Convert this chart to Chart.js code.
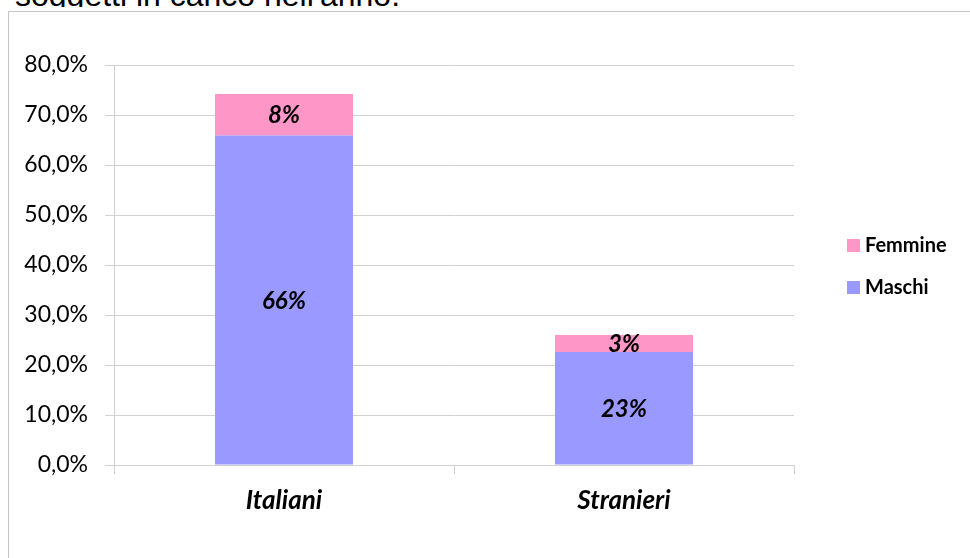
<!DOCTYPE html>
<html>
<head>
<meta charset="utf-8">
<script src="https://cdn.jsdelivr.net/npm/chart.js@4"></script>
<style>
  html, body { margin: 0; padding: 0; background: #fff; width: 970px; height: 558px; overflow: hidden; }
  #caption {
    position: absolute; left: 15px; top: 0; height: 7px; overflow: hidden;
  }
  #caption span {
    display: block; margin-top: -21px;
    font-family: "Liberation Sans", Arial, sans-serif; font-size: 32px; line-height: 32px; color: #000;
    white-space: nowrap;
  }
  #box {
    position: absolute; left: 8px; top: 11px; width: 980px; height: 560px;
    border: 1px solid #c6c6c6; background: #fff;
  }
  #myChart { position: absolute; left: 0; top: 0; }
</style>
</head>
<body>
<div id="caption"><span>soggetti in carico nell'anno.</span></div>
<div id="box"><canvas id="myChart" width="961" height="546"></canvas></div>
<script>
// dati (percentuali)
const categories = ['Italiani', 'Stranieri'];
const maschi = [65.9, 22.6];
const femmine = [8.3, 3.4];
const seriesNames = ['Maschi', 'Femmine'];
const seriesColors = ['#9999ff', '#ff96c8'];
const yMax = 80;
const yStep = 10;

const ctx = document.getElementById('myChart');

// etichette dei valori al centro di ogni barra
const valueLabels = {
    id: 'valueLabels',
    afterDatasetsDraw(chart) {
        const c = chart.ctx;
        c.save();
        c.font = 'italic bold 24px Lato, sans-serif';
        c.fillStyle = '#000';
        c.textAlign = 'center';
        c.textBaseline = 'middle';
        chart.data.datasets.forEach((ds, i) => {
            chart.getDatasetMeta(i).data.forEach((bar, j) => {
                const p = bar.getProps(['x', 'y', 'base'], true);
                c.fillText(Math.round(ds.data[j]) + '%', p.x, (p.y + p.base) / 2 + 1);
            });
        });
        c.restore();
    }
};

// legenda a destra, Femmine sopra Maschi
const sideLegend = {
    id: 'sideLegend',
    afterDraw(chart) {
        const c = chart.ctx;
        const items = chart.data.datasets.slice().reverse();
        c.save();
        c.font = 'bold 20px Lato, sans-serif';
        c.textBaseline = 'middle';
        c.textAlign = 'left';
        items.forEach((ds, k) => {
            const cy = 233 + k * 42;
            c.fillStyle = ds.backgroundColor;
            c.fillRect(838, cy - 6, 13, 13);
            c.fillStyle = '#000';
            c.fillText(ds.label, 856, cy + 1);
        });
        c.restore();
    }
};

const chart = new Chart(ctx, {
    type: 'bar',
    data: {
        labels: categories,
        datasets: [{
            label: seriesNames[0],
            data: maschi,
            backgroundColor: seriesColors[0]
        }, {
            label: seriesNames[1],
            data: femmine,
            backgroundColor: seriesColors[1]
        }]
    },
    options: {
        responsive: false,
        animation: false,
        devicePixelRatio: 1,
        layout: { padding: { top: 53, right: 176, left: 0, bottom: 0 } },
        categoryPercentage: 1,
        barPercentage: 0.406,
        plugins: {
            legend: { display: false },
            tooltip: { enabled: false }
        },
        scales: {
            x: {
                stacked: true,
                afterFit(scale) { scale.height = 93; },
                grid: {
                    offset: true,
                    drawOnChartArea: false,
                    tickLength: 9,
                    color: '#d0d0d0'
                },
                border: { color: '#d0d0d0' },
                ticks: {
                    padding: 11,
                    color: '#000',
                    font: { family: 'Lato, sans-serif', size: 26, weight: 'bold', style: 'italic' }
                }
            },
            y: {
                stacked: true,
                min: 0,
                max: yMax,
                afterFit(scale) { scale.width = 105; },
                grid: { color: '#d0d0d0', tickLength: 9 },
                border: { color: '#d0d0d0' },
                ticks: {
                    stepSize: yStep,
                    padding: 17,
                    color: '#000',
                    font: { family: 'Lato, sans-serif', size: 23 },
                    callback: v => v.toFixed(1).replace('.', ',') + '%'
                }
            }
        }
    },
    plugins: [valueLabels, sideLegend]
});
</script>
</body>
</html>
